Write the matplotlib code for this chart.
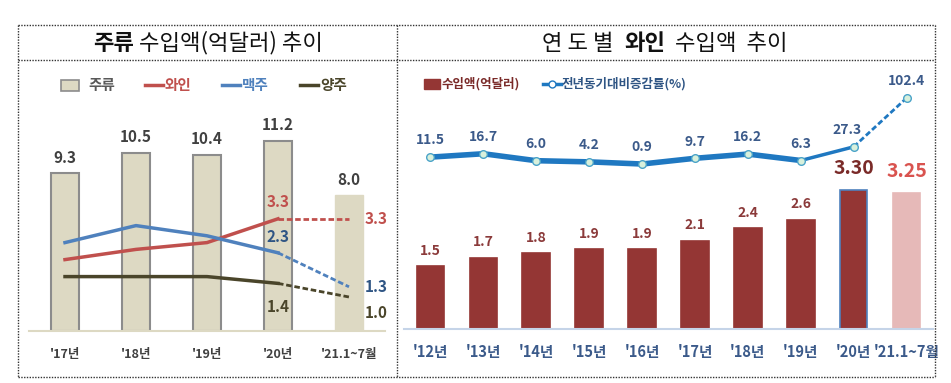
import matplotlib
matplotlib.use('Agg')
import matplotlib.pyplot as plt
from matplotlib.lines import Line2D
from matplotlib.patches import Rectangle

plt.rcParams['font.family'] = ['Noto Sans CJK KR', 'DejaVu Sans']

# left panel data
years_l = ["'17년", "'18년", "'19년", "'20년", "'21.1~7월"]
liquor = [9.3, 10.5, 10.4, 11.2, 8.0]
wine_l = [2.1, 2.4, 2.6, 3.3, 3.3]
beer = [2.6, 3.1, 2.8, 2.3, 1.3]
spirits = [1.6, 1.6, 1.6, 1.4, 1.0]

# right panel data
years_r = ["'12년", "'13년", "'14년", "'15년", "'16년", "'17년", "'18년", "'19년", "'20년", "'21.1~7월"]
wine_amt = [1.5, 1.7, 1.8, 1.9, 1.9, 2.1, 2.4, 2.6, 3.30, 3.25]
wine_amt_lbl = ['1.5', '1.7', '1.8', '1.9', '1.9', '2.1', '2.4', '2.6', '3.30', '3.25']
wine_yoy = [11.5, 16.7, 6.0, 4.2, 0.9, 9.7, 16.2, 6.3, 27.3, 102.4]

W, H = 951, 383
fig = plt.figure(figsize=(W / 100, H / 100), dpi=100)

TAN = '#ddd9c3'
RED = '#c0504d'
BLUE = '#4f81bd'
OLIVE = '#4a452a'
WINE = '#943634'
PINK = '#e6b9b8'
LBLUE = '#1f78c1'


def px(x, y):
    return x / W, 1 - y / H


# frame: dotted boxes
def dline(x0, y0, x1, y1):
    a, b = px(x0, y0)
    c, d = px(x1, y1)
    fig.add_artist(Line2D([a, c], [b, d], color='#333333', lw=1, ls=(0, (1, 1))))

dline(18, 25, 935, 25)
dline(18, 377, 935, 377)
dline(18, 25, 18, 377)
dline(935, 25, 935, 377)
dline(397, 25, 397, 377)
dline(18, 60, 935, 60)


def mixed_title(xc, yc, parts, size):
    r = fig.canvas.get_renderer()
    widths = []
    for s, w in parts:
        t = fig.text(0, 0, s, fontsize=size, fontweight=w)
        widths.append(t.get_window_extent(r).width)
        t.remove()
    x0 = xc - sum(widths) / 2
    for (s, w), wd in zip(parts, widths):
        fx, fy = px(x0, yc)
        fig.text(fx, fy, s, fontsize=size, fontweight=w, ha='left', va='center', color='#111111')
        x0 += wd

mixed_title(208, 43, [('주류', 'bold'), (' 수입액(억달러) 추이', 'normal')], 16)
mixed_title(665, 43, [('연 도 별  ', 'normal'), ('와인', 'bold'), ('  수입액  추이', 'normal')], 16)

# ---------- left chart ----------
ax = fig.add_axes([29.5 / W, 52 / H, 355 / W, 231 / H])
xs = list(range(len(years_l)))
ax.bar(xs[:4], liquor[:4], width=0.4, color=TAN, edgecolor='#8c8c8c', linewidth=1.5)
ax.bar(xs[4:], liquor[4:], width=0.4, color=TAN, edgecolor=TAN)
for x, v in zip(xs, liquor):
    ax.text(x, v + 0.45, f'{v:.1f}', ha='center', va='bottom', fontsize=11, fontweight='bold', color='#404040')
ax.set_xlim(-0.5, 4.5)
ax.set_ylim(0, 231 / 16.96)
ax.set_xticks(xs)
ax.set_xticklabels(years_l, fontsize=9, fontweight='bold', color='#404040')
ax.tick_params(length=0, pad=12)
ax.set_yticks([])
for s in ['top', 'right', 'left']:
    ax.spines[s].set_visible(False)
ax.spines['bottom'].set_color(TAN)
ax.spines['bottom'].set_linewidth(1.5)

ax2 = ax.twinx()
ax2.set_ylim(0, 231 / 34)
for vals, col in [(wine_l, RED), (beer, BLUE), (spirits, OLIVE)]:
    ax2.plot(xs[:4], vals[:4], color=col, lw=2.5)
    ax2.plot(xs[3:], vals[3:], color=col, lw=2, ls=(0, (2, 1)))
ax2.text(3, wine_l[3] + 0.25, '3.3', ha='center', va='bottom', fontsize=11, fontweight='bold', color=RED)
ax2.text(4.22, wine_l[4], '3.3', ha='left', va='center', fontsize=11, fontweight='bold', color=RED)
ax2.text(3, beer[3] + 0.45, '2.3', ha='center', va='center', fontsize=11, fontweight='bold', color='#2f5584')
ax2.text(4.22, beer[4], '1.3', ha='left', va='center', fontsize=11, fontweight='bold', color='#2f5584')
ax2.text(3, spirits[3] - 0.68, '1.4', ha='center', va='center', fontsize=11, fontweight='bold', color=OLIVE)
ax2.text(4.22, spirits[4] - 0.48, '1.0', ha='left', va='center', fontsize=11, fontweight='bold', color=OLIVE)
ax2.set_yticks([])
for s in ax2.spines.values():
    s.set_visible(False)

# left legend
fig.add_artist(Rectangle(px(61, 91), 18 / W, 11 / H, facecolor=TAN, edgecolor='#8c8c8c', lw=1.2))
fig.text(*px(88, 85), '주류', fontsize=10.5, fontweight='bold', color='#595959', va='center')
for x0, col, name in [(145, RED, '와인'), (222, BLUE, '맥주'), (300, OLIVE, '양주')]:
    a, b = px(x0, 85)
    c, _ = px(x0 + 18, 85)
    fig.add_artist(Line2D([a, c], [b, b], color=col, lw=2.5))
    fig.text(*px(x0 + 20, 85), name, fontsize=10.5, fontweight='bold', color=col, va='center')

# ---------- right chart ----------
bx = fig.add_axes([404 / W, 54 / H, 529 / W, 239 / H])
xr = list(range(len(years_r)))
cols = [WINE] * 9 + [PINK]
edges = [WINE] * 8 + [BLUE, PINK]
bx.bar(xr, wine_amt, width=0.52, color=cols, edgecolor=edges, linewidth=1.2)
for x, v, s in zip(xr, wine_amt, wine_amt_lbl):
    if x < 8:
        bx.text(x, v + 0.2, s, ha='center', va='bottom', fontsize=10, fontweight='bold', color='#8b3a3a')
bx.text(8, wine_amt[8] + 0.3, wine_amt_lbl[8], ha='center', va='bottom', fontsize=14, fontweight='bold', color='#7a2a28')
bx.text(9, wine_amt[9] + 0.28, wine_amt_lbl[9], ha='center', va='bottom', fontsize=14, fontweight='bold', color='#d9534f')
bx.set_xlim(-0.5, 9.5)
bx.set_ylim(0, 239 / 42)
bx.set_xticks(xr)
bx.set_xticklabels(years_r, fontsize=10.5, fontweight='bold', color='#3b5a8a')
bx.tick_params(length=0, pad=11)
bx.set_yticks([])
for s in ['top', 'right', 'left']:
    bx.spines[s].set_visible(False)
bx.spines['bottom'].set_color('#c5d4e8')
bx.spines['bottom'].set_linewidth(1.5)

bx2 = bx.twinx()
bx2.set_ylim(-(329 - 164.6) / 0.65, (164.6 - 90) / 0.65)
bx2.plot(xr[:8], wine_yoy[:8], color=LBLUE, lw=4, solid_capstyle='round')
bx2.plot(xr[7:9], wine_yoy[7:9], color=LBLUE, lw=2.5)
bx2.plot(xr[8:], wine_yoy[8:], color=LBLUE, lw=2, ls=(0, (2, 1)))
bx2.plot(xr, wine_yoy, ls='none', marker='o', ms=5.5, mfc='#d8f0dc', mec='#4aa3c8', mew=1)
for x, v in zip(xr, wine_yoy):
    dx = -0.12 if x == 8 else 0
    bx2.text(x + dx, v + 15, f'{v:.1f}', ha='center', va='bottom', fontsize=10, fontweight='bold', color='#3b5a8a')
bx2.set_yticks([])
for s in bx2.spines.values():
    s.set_visible(False)

# right legend
fig.add_artist(Rectangle(px(424, 89), 16 / W, 10 / H, facecolor=WINE, edgecolor=WINE))
fig.text(*px(441, 84), '수입액(억달러)', fontsize=9, fontweight='bold', color='#7a2a28', va='center')
a, b = px(543, 84)
c, _ = px(561, 84)
fig.add_artist(Line2D([a, c], [b, b], color=LBLUE, lw=2.5))
fig.add_artist(Line2D([(a + c) / 2], [b], marker='o', ms=5, mfc='white', mec=LBLUE, ls='none'))
fig.text(*px(562, 84), '전년동기대비증감률(%)', fontsize=9, fontweight='bold', color='#2f5584', va='center')

fig.savefig('out.png', dpi=100)
